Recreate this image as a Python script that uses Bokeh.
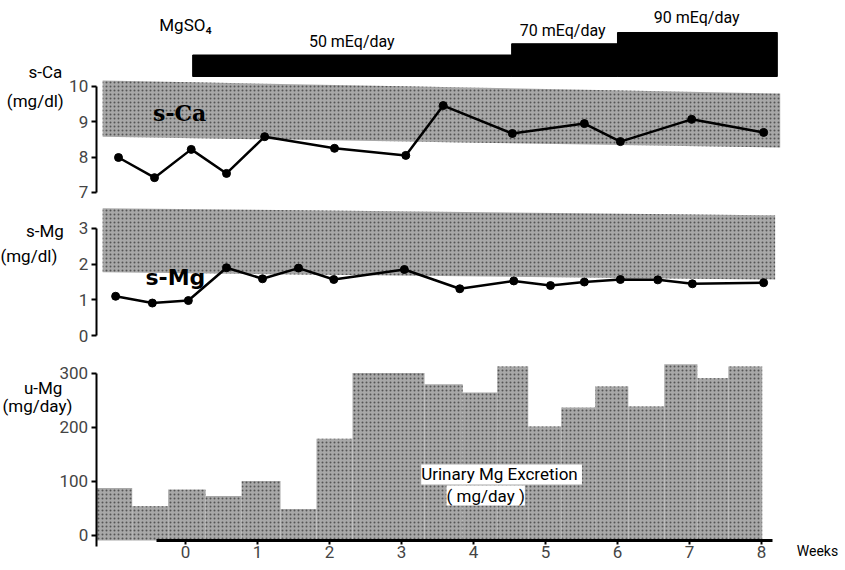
from bokeh.plotting import figure
from bokeh.models import Label, FixedTicker, Range1d, LinearAxis
from bokeh.embed import file_html
from bokeh.resources import INLINE

# ---------------- data ----------------
# MgSO4 dosing periods (weeks) and doses (mEq/day)
dose_starts = [0.1, 4.53, 6.0]
dose_ends = [4.53, 6.0, 8.22]
doses = [50, 70, 90]
dose_labels = ["50 mEq/day", "70 mEq/day", "90 mEq/day"]

# serum calcium (mg/dl)
ca_weeks = [-0.93, -0.43, 0.08, 0.57, 1.10, 2.07, 3.06, 3.58, 4.54, 5.54, 6.04, 7.03, 8.03]
ca_vals = [7.99, 7.42, 8.22, 7.54, 8.58, 8.25, 8.05, 9.46, 8.67, 8.95, 8.44, 9.07, 8.70]
# normal range band for s-Ca (as drawn, start / end of the band)
ca_band_weeks = [-1.15, 8.26]
ca_band_lo = [8.58, 8.27]
ca_band_hi = [10.17, 9.80]

# serum magnesium (mg/dl)
mg_weeks = [-0.97, -0.46, 0.04, 0.57, 1.07, 1.57, 2.06, 3.04, 3.81, 4.56, 5.07, 5.54, 6.04, 6.56, 7.04, 8.03]
mg_vals = [1.10, 0.91, 0.98, 1.90, 1.59, 1.89, 1.57, 1.85, 1.31, 1.53, 1.40, 1.50, 1.57, 1.56, 1.45, 1.48]
mg_band_weeks = [-1.15, 8.19]
mg_band_lo = [1.77, 1.57]
mg_band_hi = [3.57, 3.37]

# urinary magnesium excretion (mg/day), step periods
umg_edges = [-1.24, -0.74, -0.24, 0.28, 0.78, 1.32, 1.82, 2.32, 3.32, 3.85,
             4.33, 4.76, 5.22, 5.69, 6.15, 6.65, 7.11, 7.54, 8.01]
umg_vals = [88, 54, 85, 73, 101, 49, 179, 301, 280, 265, 313, 202, 237, 276, 239, 317, 291, 313]

week_ticks = [0, 1, 2, 3, 4, 5, 6, 7, 8]
ca_ticks = [7, 8, 9, 10]
mg_ticks = [0, 1, 2, 3]
umg_ticks = [0, 100, 200, 300]

# ---------------- style / layout ----------------
FONT = "Roboto"
BAND_FILL = "#a8a8a8"
HATCH = "#555555"
YAXIS_AT = -1.24
UMG_AXIS = -9.26
DOSE_BASE = 11.8

# one frame, each panel on its own vertical scale
p = figure(frame_width=845, frame_height=566,
           x_range=Range1d(-2.569, 9.167), y_range=Range1d(-57.41, 990.7),
           output_backend="svg", toolbar_location=None,
           x_axis_location="below", y_axis_location="left",
           min_border_left=0, min_border_right=0, min_border_top=0, min_border_bottom=0)
p.extra_y_ranges = {
    "dose": Range1d(-859.3, 146.9),
    "ca": Range1d(-3.586, 12.434),
    "mg": Range1d(-6.476, 9.392),
}
p.grid.visible = False
p.outline_line_color = None
p.background_fill_color = "white"
p.border_fill_color = "white"


def style_axis(ax, ticks, bounds, width=2, out=5, standoff=3):
    ax.ticker = FixedTicker(ticks=ticks)
    ax.bounds = bounds
    ax.axis_line_width = width
    ax.major_tick_line_width = 2
    ax.major_tick_out = out
    ax.major_tick_in = 0
    ax.minor_tick_line_color = None
    ax.major_label_text_font = FONT
    ax.major_label_text_font_size = "17px"
    ax.major_label_standoff = standoff


def lab(x, y, text, rng="default", size="16px", align="center", bold=False, bg=None,
        font=FONT):
    p.add_layout(Label(x=x, y=y, y_range_name=rng, text=text, text_font=font,
                       text_font_size=size, text_align=align, text_baseline="middle",
                       text_font_style="bold" if bold else "normal",
                       text_color="black",
                       background_fill_color=bg, background_fill_alpha=1.0 if bg else 0.0))


def band(wx, lo, hi, rng):
    xs = [wx[0], wx[1], wx[1], wx[0]]
    ys = [lo[0], lo[1], hi[1], hi[0]]
    p.patch(xs, ys, y_range_name=rng, fill_color=BAND_FILL, line_color=None,
            hatch_pattern="dot", hatch_color=HATCH, hatch_scale=4, hatch_weight=1)


# ---------------- MgSO4 dose bar ----------------
p.quad(left=dose_starts, right=dose_ends, top=doses, bottom=DOSE_BASE, y_range_name="dose",
       fill_color="black", line_color="black")
lab(0.0, 104.2, "MgSO₄", rng="dose", size="17px")
label_pos = [(2.31, 74.0), (5.24, 93.6), (7.10, 116.7)]
for (lx, ly), t in zip(label_pos, dose_labels):
    lab(lx, ly, t, rng="dose", size="16px")

# ---------------- s-Ca ----------------
ax_ca = LinearAxis(y_range_name="ca", fixed_location=YAXIS_AT)
style_axis(ax_ca, ca_ticks, (7, 10))
p.add_layout(ax_ca, "left")
band(ca_band_weeks, ca_band_lo, ca_band_hi, "ca")
p.line(ca_weeks, ca_vals, y_range_name="ca", line_color="black", line_width=2.5)
p.scatter(ca_weeks, ca_vals, y_range_name="ca", size=8, color="black")
lab(-0.08, 9.24, "s-Ca", rng="ca", size="22px", bold=True, font="DejaVu Serif")
lab(-1.71, 10.4, "s-Ca", rng="ca", size="17px", align="right")
lab(-1.69, 9.60, "(mg/dl)", rng="ca", size="17px", align="right")

# ---------------- s-Mg ----------------
ax_mg = LinearAxis(y_range_name="mg", fixed_location=YAXIS_AT)
style_axis(ax_mg, mg_ticks, (0, 3))
p.add_layout(ax_mg, "left")
band(mg_band_weeks, mg_band_lo, mg_band_hi, "mg")
p.line(mg_weeks, mg_vals, y_range_name="mg", line_color="black", line_width=2.5)
p.scatter(mg_weeks, mg_vals, y_range_name="mg", size=8, color="black")
lab(-0.14, 1.63, "s-Mg", rng="mg", size="22px", bold=True, font="DejaVu Sans")
lab(-1.69, 2.94, "s-Mg", rng="mg", size="17px", align="right")
lab(-1.78, 2.24, "(mg/dl)", rng="mg", size="17px", align="right")

# ---------------- u-Mg ----------------
ax_u = p.yaxis[0]
ax_u.fixed_location = YAXIS_AT
style_axis(ax_u, umg_ticks, (-20, 300))
p.quad(left=umg_edges[:-1], right=umg_edges[1:], top=umg_vals, bottom=UMG_AXIS,
       fill_color=BAND_FILL, line_color=None,
       hatch_pattern="dot", hatch_color=HATCH, hatch_scale=4, hatch_weight=1)
xa = p.xaxis[0]
xa.fixed_location = UMG_AXIS
style_axis(xa, week_ticks, (-0.4, 8.15), width=3, out=4, standoff=2)
lab(4.39, 113, "Urinary Mg  Excretion", size="17px", bg="white")
lab(4.17, 74, "( mg/day )", size="17px", bg="white")
lab(-1.71, 274, "u-Mg", size="17px", align="right")
lab(-1.57, 240.7, "(mg/day)", size="17px", align="right")
lab(8.49, -27.8, "Weeks", size="14px", align="left")

open("out.html", "w").write(file_html(p, INLINE))
